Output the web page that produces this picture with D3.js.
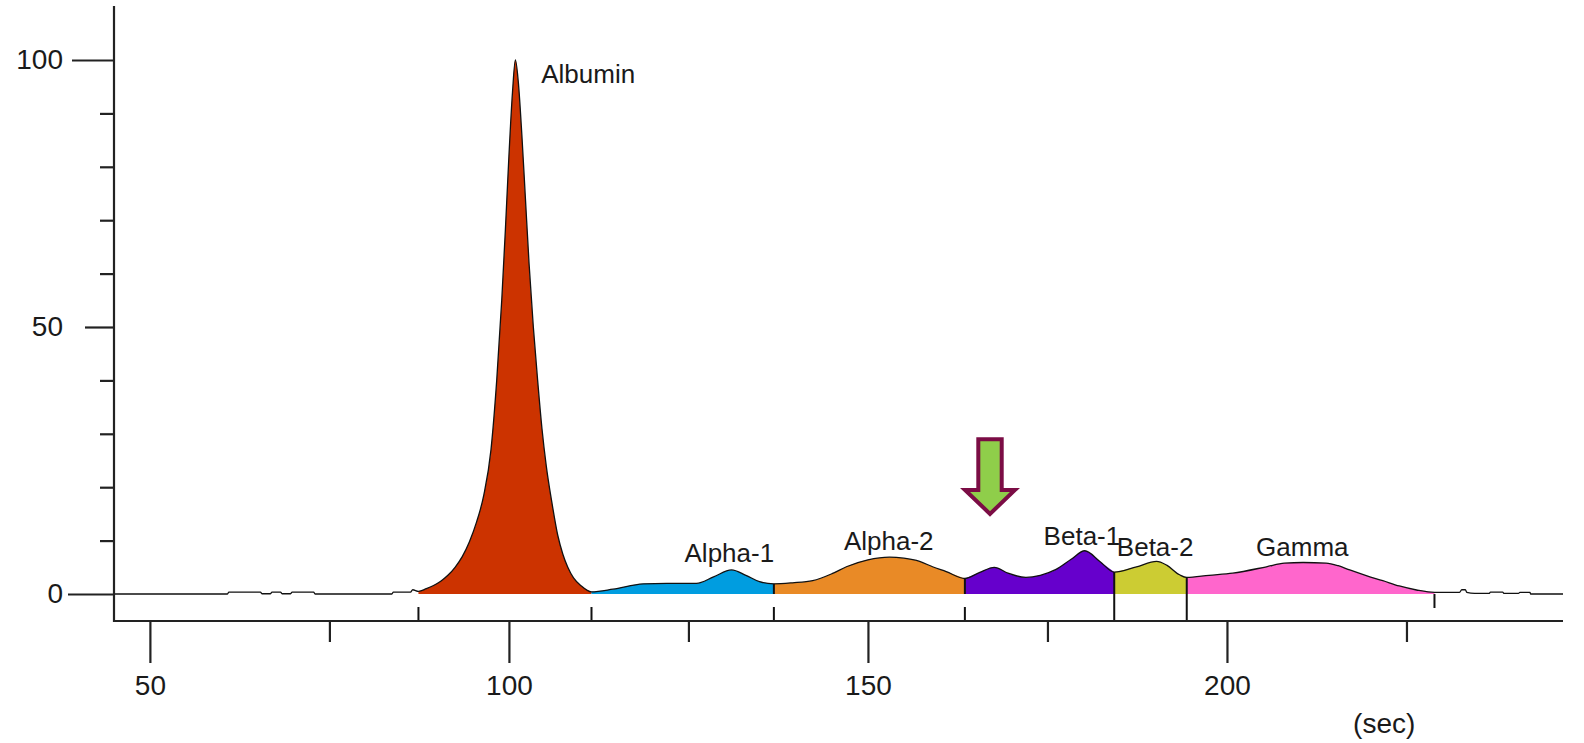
<!DOCTYPE html>
<html>
<head>
<meta charset="utf-8">
<script src="https://cdn.jsdelivr.net/npm/d3@7"></script>
<style>
  body { margin: 0; background: #fff; }
  svg text { font-family: "Liberation Sans", Arial, sans-serif; fill: #1a1a1a; }
</style>
</head>
<body>
<script>
// electropherogram trace (time in sec, relative signal)
var traceSec = [45, 60.8, 61, 65.4, 65.6, 66.8, 67, 68.2, 68.4, 69.6, 69.8, 72.8, 73, 83.7, 83.9, 86.3, 86.6, 87.4,
  88.5, 89.5, 90.5, 91.5, 92.5, 93.5, 94.5, 95.5, 96.5, 97.5, 98.3, 99, 99.5, 100, 100.5, 100.9, 101.3, 101.8,
  102.3, 102.8, 103.4, 104, 104.6, 105.2, 106, 106.8, 107.5, 108.2, 109, 110, 111.5,
  114.5, 118.7, 122, 126.1, 128.5, 131, 133, 134.9, 136.9,
  139.5, 142.3, 145, 147, 150, 153, 155, 157.2, 159, 160.9, 163.5,
  165.5, 167.6, 169.5, 172, 174, 176.2, 178.3, 180.2, 182.3, 184.3,
  187.4, 190.2, 191.6, 193.4, 194.4,
  197.5, 200.8, 205.5, 208, 210.6, 213.8, 215.5, 217.1, 219.5, 221.7, 224, 226.4, 228.9,
  232.4, 232.7, 233.2, 233.4, 234.5, 236.5, 236.7, 238.4, 238.6, 240.6, 240.8, 242.2, 242.3, 246.8];
var traceVal = [0, 0, 0.35, 0.35, 0.05, 0.05, 0.35, 0.35, 0.05, 0.05, 0.35, 0.35, 0, 0, 0.35, 0.35, 0.8, 0.5,
  1.0, 1.6, 2.4, 3.5, 5, 7, 9.8, 13.5, 18.5, 27, 40, 55, 68, 82, 94, 100, 96, 86,
  74, 62, 50, 40, 31, 24, 17, 11, 7.5, 5, 3, 1.6, 0.4,
  0.9, 1.9, 2.0, 2.0, 3.2, 4.5, 3.5, 2.3, 1.9,
  2.1, 2.5, 3.8, 5.1, 6.4, 6.9, 6.7, 6.1, 5.1, 4.2, 2.9,
  4.0, 5.0, 3.9, 3.1, 3.5, 4.6, 6.5, 8.1, 6.1, 4.1,
  5.1, 6.1, 5.4, 3.6, 3.1,
  3.5, 3.9, 5.1, 5.8, 5.9, 5.8, 5.3, 4.5, 3.4, 2.5, 1.5, 0.75, 0.3,
  0.3, 0.8, 0.8, 0.3, 0.1, 0.1, 0.35, 0.35, 0.1, 0.1, 0.3, 0.3, 0, 0];

var fractionNames = ["Albumin", "Alpha-1", "Alpha-2", "Beta-1", "Beta-2", "Gamma"];
var fractionColors = ["#cc3300", "#009de0", "#e98a26", "#6600cc", "#cccc33", "#ff66cc"];
var boundaries = [87.4, 111.5, 136.9, 163.5, 184.3, 194.4, 228.9];
var dividerKind = ["foot", "foot", "split", "split", "full", "full", "hang"];

var labelSec = [104.5, 130.7, 152.9, 179.8, 190.0, 210.5];
var labelVal = [95.7, 5.9, 8.2, 9.2, 7.1, 7.1];

var xMajor = [50, 100, 150, 200];
var xMinor = [75, 125, 175, 225];
var yMajor = [0, 50, 100];
var yMinor = [10, 20, 30, 40, 60, 70, 80, 90];

// arrow marking the extra peak
var arrowSec = 167, arrowFrom = 29, arrowTo = 15;

var W = 1584, H = 743;
var axisY = 621;

var svg = d3.select("body").append("svg")
  .attr("width", W)
  .attr("height", H);

var x = d3.scaleLinear().domain([45, 246.8]).range([114, 1563]);
var y = d3.scaleLinear().domain([0, 110]).range([594, 6.6]);

var pts = traceSec.map(function(s, i) { return [s, traceVal[i]]; });
function valAt(s) {
  for (var i = 0; i < pts.length; i++) if (pts[i][0] === s) return pts[i][1];
  return 0;
}

// filled fractions
var area = d3.area()
  .x(function(d) { return x(d[0]); })
  .y0(y(0))
  .y1(function(d) { return y(d[1]); })
  .curve(d3.curveMonotoneX);

fractionNames.forEach(function(name, i) {
  var seg = pts.filter(function(d) { return d[0] >= boundaries[i] && d[0] <= boundaries[i + 1]; });
  svg.append("path")
    .attr("d", area(seg))
    .attr("fill", fractionColors[i]);
});

// trace outline
var line = d3.line()
  .x(function(d) { return x(d[0]); })
  .y(function(d) { return y(d[1]); })
  .curve(d3.curveMonotoneX);

svg.append("path")
  .attr("d", line(pts))
  .attr("fill", "none")
  .attr("stroke", "#111")
  .attr("stroke-width", 1.3);

// dividers between fractions
var div = svg.append("g").attr("stroke", "#111").attr("stroke-width", 2);
boundaries.forEach(function(b, i) {
  var xb = x(b), top = y(valAt(b)), kind = dividerKind[i];
  if (kind === "foot" || kind === "split") {
    div.append("line").attr("x1", xb).attr("x2", xb).attr("y1", 607).attr("y2", axisY);
  }
  if (kind === "split") {
    div.append("line").attr("x1", xb).attr("x2", xb).attr("y1", top).attr("y2", y(0));
  }
  if (kind === "full") {
    div.append("line").attr("x1", xb).attr("x2", xb).attr("y1", top).attr("y2", axisY);
  }
  if (kind === "hang") {
    div.append("line").attr("x1", xb).attr("x2", xb).attr("y1", y(0)).attr("y2", 608);
  }
});

// axes lines
svg.append("line")
  .attr("x1", 114).attr("x2", 114).attr("y1", 6).attr("y2", axisY + 1)
  .attr("stroke", "#222").attr("stroke-width", 2.2);
svg.append("line")
  .attr("x1", 113).attr("x2", 1563).attr("y1", axisY).attr("y2", axisY)
  .attr("stroke", "#222").attr("stroke-width", 2.2);

var gx = svg.append("g")
  .attr("transform", "translate(0," + axisY + ")")
  .call(d3.axisBottom(x).tickValues(xMajor).tickSize(42).tickSizeOuter(0).tickPadding(12));
var gx2 = svg.append("g")
  .attr("transform", "translate(0," + axisY + ")")
  .call(d3.axisBottom(x).tickValues(xMinor).tickSize(21).tickSizeOuter(0).tickFormat(""));

var yTickLen = {0: 46, 50: 29, 100: 42};
var gy = svg.append("g")
  .attr("transform", "translate(114,0)")
  .call(d3.axisLeft(y).tickValues(yMajor).tickSize(44).tickSizeOuter(0).tickPadding(7));
gy.selectAll(".tick line").attr("x2", function(d) { return -yTickLen[d]; });
var gy2 = svg.append("g")
  .attr("transform", "translate(114,0)")
  .call(d3.axisLeft(y).tickValues(yMinor).tickSize(14).tickSizeOuter(0).tickFormat(""));

[gx, gx2, gy, gy2].forEach(function(g) {
  g.select(".domain").remove();
  g.selectAll(".tick line").attr("stroke", "#222").attr("stroke-width", 2.2);
  g.selectAll("text")
    .attr("font-family", "'Liberation Sans', Arial, sans-serif")
    .attr("font-size", 28)
    .attr("fill", "#1a1a1a");
});

svg.append("text")
  .attr("x", x(221.9))
  .attr("y", 733)
  .attr("text-anchor", "middle")
  .attr("font-size", 28)
  .text("(sec)");

// fraction labels
svg.selectAll(".flabel")
  .data(fractionNames)
  .enter()
  .append("text")
  .attr("class", "flabel")
  .attr("x", function(d, i) { return x(labelSec[i]); })
  .attr("y", function(d, i) { return y(labelVal[i]); })
  .attr("text-anchor", function(d, i) { return i === 0 ? "start" : "middle"; })
  .attr("font-size", 26)
  .text(function(d) { return d; });

// arrow
var ax = x(arrowSec), at = y(arrowFrom), ab = y(arrowTo);
var sw = 11.7, hw = 25, headH = 24;
var arrowPts = [
  [ax - sw, at], [ax + sw, at], [ax + sw, ab - headH], [ax + hw, ab - headH],
  [ax, ab], [ax - hw, ab - headH], [ax - sw, ab - headH]
];
svg.append("polygon")
  .attr("points", arrowPts.map(function(p) { return p.join(","); }).join(" "))
  .attr("fill", "#8fce4a")
  .attr("stroke", "#7b0d45")
  .attr("stroke-width", 4);
</script>
</body>
</html>
